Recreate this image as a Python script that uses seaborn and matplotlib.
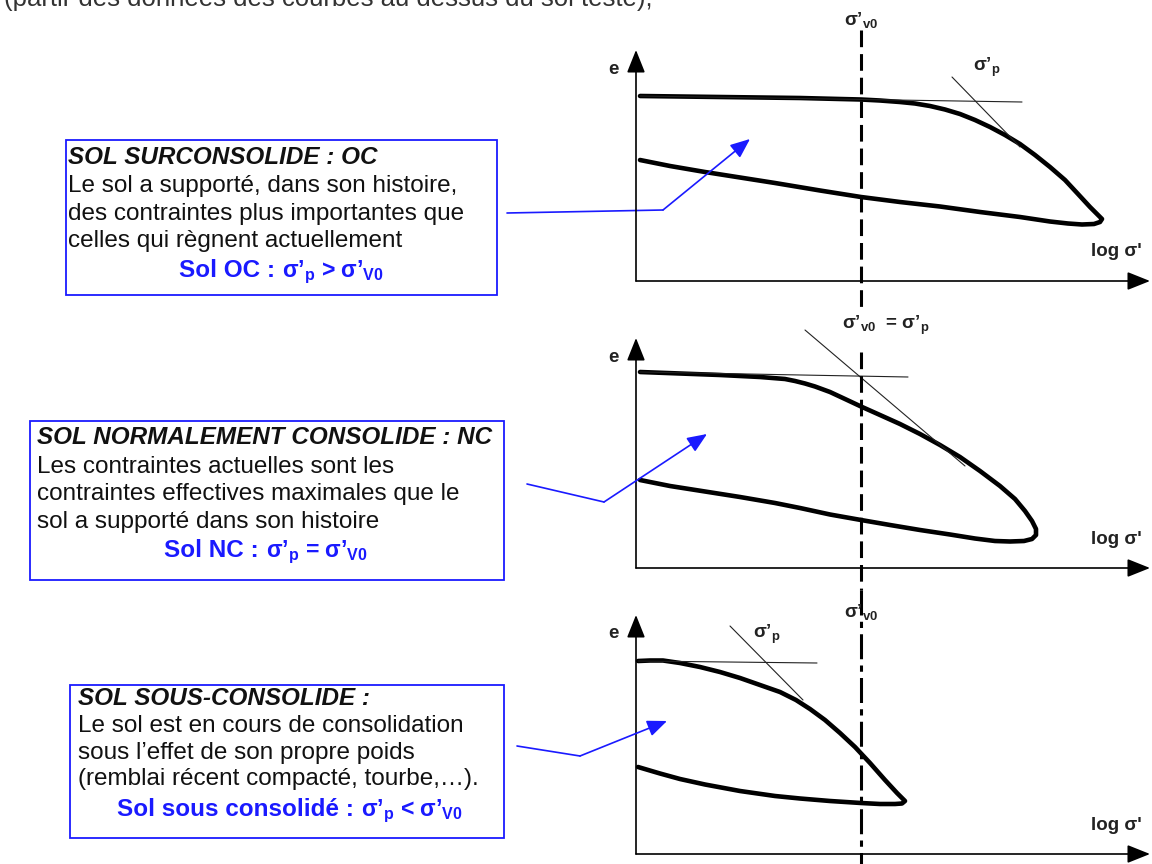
import matplotlib
matplotlib.use("Agg")
import matplotlib.pyplot as plt
import seaborn as sns
import pandas as pd
from matplotlib.patches import Rectangle

sns.set_theme(style="white")
plt.rcParams["font.family"] = ["Liberation Sans", "DejaVu Sans"]
plt.rcParams["mathtext.fontset"] = "custom"
plt.rcParams["mathtext.rm"] = "Liberation Sans"
plt.rcParams["mathtext.bf"] = "Liberation Sans:bold"
plt.rcParams["mathtext.it"] = "Liberation Sans:italic"
plt.rcParams["lines.scale_dashes"] = False

# ---- e - log(sigma') curves (loading branch then unloading branch), drawing units
oc_x = [640, 680, 720, 760, 800, 840, 861, 880, 900, 915, 930, 945, 960, 975, 990, 1005, 1020,
        1035, 1050, 1065, 1078, 1090, 1098, 1102,
        1100, 1094, 1082, 1068, 1050, 1020, 980, 940, 900, 861, 820, 775, 740, 705, 670, 640]
oc_y = [96, 96.5, 97, 97.5, 98, 99, 99.5, 100.5, 102, 103.5, 106, 109.5, 114, 120, 127, 135, 144,
        155, 167, 180, 194, 207, 215, 219,
        222, 224, 224.5, 223.5, 221.5, 217, 212, 206.5, 202, 197, 190.5, 183, 177.5, 172, 166, 160]

nc_x = [640, 680, 720, 760, 785, 795, 805, 815, 830, 845, 861, 880, 900, 920, 940, 960, 980,
        1000, 1015, 1025, 1032, 1036, 1036,
        1032, 1024, 1010, 995, 975, 950, 920, 890, 861, 830, 800, 775, 740, 705, 670, 640]
nc_y = [372, 373.5, 375, 377, 379, 381, 383.5, 386.5, 392, 399, 406.5, 415, 424, 434, 445, 457, 471,
        486, 499, 511, 521, 529, 535,
        539, 541, 541.5, 541, 538.5, 534.5, 530, 525, 520, 514.5, 508, 503, 497, 491.5, 486, 480]

uc_x = [638, 650, 663, 680, 700, 720, 740, 760, 780, 796, 810, 825, 840, 855, 870, 885, 897, 905,
        902, 895, 880, 861, 830, 800, 775, 740, 705, 680, 660, 638]
uc_y = [661, 660.5, 660.5, 663, 667, 672, 678, 685, 692, 700, 709, 720, 733, 747, 763, 780, 793, 801,
        803.5, 804, 804, 803, 801, 798.5, 796, 791, 784.5, 779, 773.5, 767]

# ---- construction lines for sigma'p (horizontal asymptote + tangent)
oc_flat = ([640, 1022], [96, 102])
oc_tangent = ([952, 1020], [77, 147])
nc_flat = ([640, 908], [372, 377])
nc_tangent = ([805, 965], [330, 466])
uc_flat = ([638, 817], [661, 663])
uc_tangent = ([730, 803], [626, 700])

# ---- axes of each panel: origin y, top of e-axis
axis_x0 = 636
axis_x1 = 1150
panel_origin_y = [281, 568, 854]
panel_top_y = [50, 338, 615]

# ---- sigma'v0 vertical line
sigma_v0_x = 861

# ---- description boxes
header = "(partir des données des courbes au dessus du sol testé);"

oc_title = "SOL SURCONSOLIDE : OC"
oc_lines = ["Le sol a supporté, dans son histoire,",
            "des contraintes plus importantes que",
            "celles qui règnent actuellement"]
oc_rule = ("Sol OC :", "σ’$_\\mathbf{p}$ > σ’$_\\mathbf{V0}$")

nc_title = "SOL NORMALEMENT CONSOLIDE : NC"
nc_lines = ["Les contraintes actuelles sont les",
            "contraintes effectives maximales que le",
            "sol a supporté dans son histoire"]
nc_rule = ("Sol NC :", "σ’$_\\mathbf{p}$ = σ’$_\\mathbf{V0}$")

uc_title = "SOL SOUS-CONSOLIDE :"
uc_lines = ["Le sol est en cours de consolidation",
            "sous l’effet de son propre poids",
            "(remblai récent compacté, tourbe,…)."]
uc_rule = ("Sol sous consolidé :", "σ’$_\\mathbf{p}$ < σ’$_\\mathbf{V0}$")

# pointer polylines from box to diagram
oc_pointer = ([507, 663, 750], [213, 210, 139])
nc_pointer = ([527, 604, 707], [484, 502, 434])
uc_pointer = ([517, 580, 667], [746, 756, 721])

BLUE = "#1a1aff"
INK = "#111111"
BODY = 17.5

fig = plt.figure(figsize=(11.52, 8.64), dpi=100)
ax = fig.add_axes([0, 0, 1, 1])

# header sentence running off the top edge
ax.text(4, 6, header, fontsize=18.5, color="#333333", va="baseline", ha="left")

# axes with arrow heads
head = "-|>,head_length=0.7,head_width=0.28"
for y0, ytop in zip(panel_origin_y, panel_top_y):
    ax.annotate("", xy=(axis_x0, ytop), xytext=(axis_x0, y0),
                arrowprops=dict(arrowstyle=head, color="#444444", lw=1.2, shrinkA=0, shrinkB=0,
                                mutation_scale=20, fc="black", ec="black"))
    ax.annotate("", xy=(axis_x1, y0), xytext=(axis_x0, y0),
                arrowprops=dict(arrowstyle=head, color="#444444", lw=1.2, shrinkA=0, shrinkB=0,
                                mutation_scale=20, fc="black", ec="black"))

# curves
for cx, cy in [(oc_x, oc_y), (nc_x, nc_y), (uc_x, uc_y)]:
    df = pd.DataFrame({"log_sigma": cx, "e": cy})
    sns.lineplot(data=df, x="log_sigma", y="e", sort=False, estimator=None,
                 color="black", lw=3.3, ax=ax, solid_joinstyle="round",
                 solid_capstyle="round")

for lx, ly in [oc_flat, oc_tangent, nc_flat, nc_tangent, uc_flat, uc_tangent]:
    sns.lineplot(x=lx, y=ly, sort=False, estimator=None, color="#222222", lw=0.8, ax=ax)

# sigma'v0 line
ax.plot([sigma_v0_x, sigma_v0_x], [30, 313], color="black", lw=2.2, dashes=(12, 5))
ax.plot([sigma_v0_x, sigma_v0_x], [352, 590], color="black", lw=2.2, dashes=(12, 5))
ax.plot([sigma_v0_x, sigma_v0_x], [590, 864], color="black", lw=2.2, dashes=(18, 4.5, 4.5, 4.5))

# axis labels
lab = dict(fontsize=13.5, fontweight="bold", color="#222222", ha="center", va="center")
for y0, ytop in zip(panel_origin_y, panel_top_y):
    ax.text(613, ytop + 19, "e", **lab)
    ax.text(1116, y0 - 29, "log σ'", **lab)

ax.text(861, 20, "σ’$_\\mathbf{v0}$", **lab)
ax.text(987, 67, "σ’$_\\mathbf{p}$", **lab)
ax.text(886, 325, "σ’$_\\mathbf{v0}$  = σ’$_\\mathbf{p}$", **lab)
ax.text(861, 612, "σ’$_\\mathbf{v0}$", **lab)
ax.text(767, 634, "σ’$_\\mathbf{p}$", **lab)

# description boxes
boxes = [
    ((66, 140, 431, 155), 68, [164, 192, 220, 247], oc_title, oc_lines, oc_rule, 278, 277),
    ((30, 421, 474, 159), 37, [444, 473, 500, 528], nc_title, nc_lines, nc_rule, 262, 557),
    ((70, 685, 434, 153), 78, [705, 732, 759, 785], uc_title, uc_lines, uc_rule, 357, 816),
]
for (bx, by, bw, bh), tx, bases, title, lines, rule, split, rb in boxes:
    ax.add_patch(Rectangle((bx, by), bw, bh, fill=False, ec=BLUE, lw=1.3))
    ax.text(tx, bases[0], title, fontsize=BODY, fontweight="bold", fontstyle="italic",
            color=INK, va="baseline", ha="left")
    for yb, line in zip(bases[1:], lines):
        ax.text(tx, yb, line, fontsize=BODY, color=INK, va="baseline", ha="left")
    ax.text(split - 3, rb, rule[0], fontsize=17.5, fontweight="bold", color=BLUE,
            va="baseline", ha="right")
    ax.text(split + 4, rb, rule[1], fontsize=16.5, fontweight="bold", color=BLUE,
            va="baseline", ha="left")

# pointers
for px, py in [oc_pointer, nc_pointer, uc_pointer]:
    ax.plot(px[:2], py[:2], color=BLUE, lw=1.2)
    ax.annotate("", xy=(px[2], py[2]), xytext=(px[1], py[1]),
                arrowprops=dict(arrowstyle="-|>,head_length=0.6,head_width=0.25",
                                color=BLUE, lw=1.2, shrinkA=0, shrinkB=0,
                                mutation_scale=20))

ax.set_xlim(0, 1152)
ax.set_ylim(864, 0)
ax.axis("off")

fig.savefig("out.png", dpi=100, facecolor="white")
